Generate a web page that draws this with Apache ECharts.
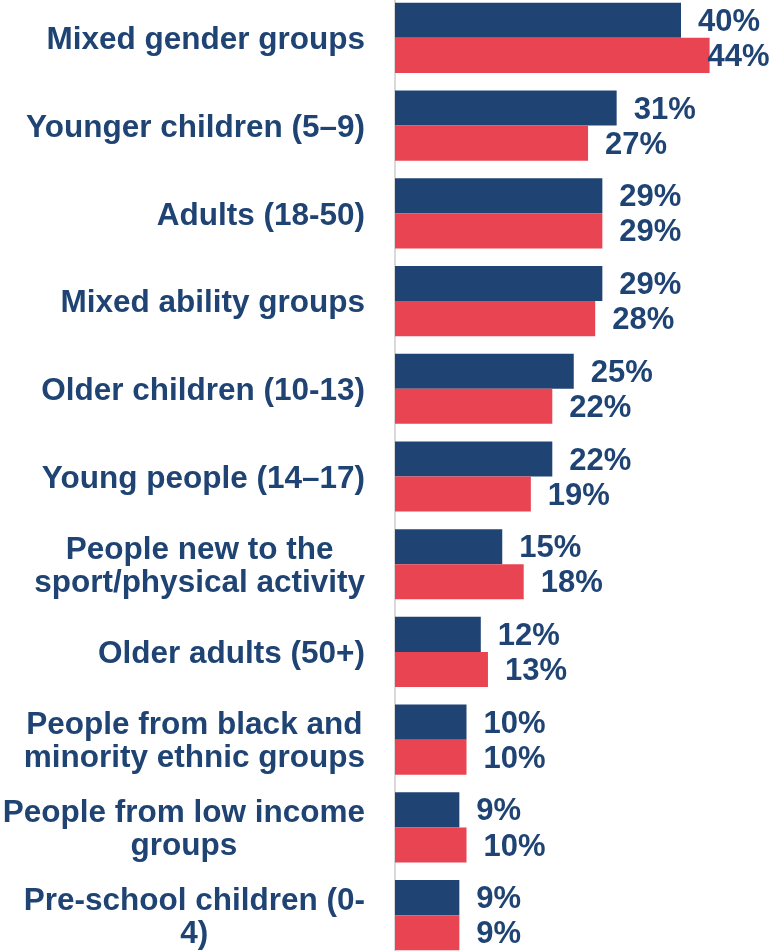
<!DOCTYPE html>
<html>
<head>
<meta charset="utf-8">
<script src="https://cdn.jsdelivr.net/npm/echarts@6/dist/echarts.min.js"></script>
<style>
  html, body { margin: 0; padding: 0; background: #ffffff; overflow: hidden; }
  /* The plot runs a little past the top and bottom edges of the page */
  #chart { width: 769px; height: 965px; position: relative; top: -6px; }
</style>
</head>
<body>
<div id="chart"></div>
<script>
// Groups the activity sessions were aimed at
const categories = [
  'Mixed gender groups',
  'Younger children (5\u20139)',
  'Adults (18-50)',
  'Mixed ability groups',
  'Older children (10-13)',
  'Young people (14\u201317)',
  'People new to the\nsport/physical activity',
  'Older adults (50+)',
  'People from black and\nminority ethnic groups',
  'People from low income\ngroups',
  'Pre-school children (0-\n4)'
];

// Percentages for the two respondent groups
const seriesA = [40, 31, 29, 29, 25, 22, 15, 12, 10, 9, 9];
const seriesB = [44, 27, 29, 28, 22, 19, 18, 13, 10, 10, 9];

const NAVY = '#1f4474';
const RED = '#e84452';
const FONT = '"Liberation Sans", Arial, Helvetica, sans-serif';

const valueLabel = {
  show: true,
  position: 'right',
  distance: 17,
  offset: [0, 2],
  formatter: p => p.value + '%',
  color: NAVY,
  fontFamily: FONT,
  fontWeight: 'bold',
  fontSize: 31
};

// The widest value sits against the right edge, so its label hugs the bar
const seriesBData = seriesB.map(v =>
  v === Math.max(...seriesB) ? { value: v, label: { distance: -2 } } : v
);

const chart = echarts.init(document.getElementById('chart'), null, { renderer: 'canvas' });

chart.setOption({
  backgroundColor: '#ffffff',
  animation: false,
  grid: {
    left: 395,
    right: 16.5,
    top: 0,
    bottom: 0,
    containLabel: false,
    outerBoundsMode: 'none'
  },
  xAxis: {
    type: 'value',
    min: 0,
    max: 50,
    show: false
  },
  yAxis: {
    type: 'category',
    data: categories,
    inverse: true,
    axisLine: { show: true, lineStyle: { color: '#d9d9d9', width: 2 } },
    axisTick: { show: false },
    splitLine: { show: false },
    axisLabel: {
      margin: 30,
      align: 'right',
      padding: [5, 0, 0, 0],
      color: NAVY,
      fontFamily: FONT,
      fontWeight: 'bold',
      fontSize: 31.5,
      lineHeight: 33,
      formatter: v => v.split('\n').map(s => '{c|' + s + '}').join('\n'),
      rich: {
        c: {
          align: 'center',
          color: NAVY,
          fontFamily: FONT,
          fontWeight: 'bold',
          fontSize: 31.5,
          lineHeight: 33
        }
      }
    }
  },
  series: [
    {
      name: 'A',
      type: 'bar',
      data: seriesA,
      itemStyle: { color: NAVY },
      barGap: '0%',
      barCategoryGap: '20%',
      label: valueLabel
    },
    {
      name: 'B',
      type: 'bar',
      data: seriesBData,
      itemStyle: { color: RED },
      barGap: '0%',
      barCategoryGap: '20%',
      label: valueLabel
    }
  ]
});
</script>
</body>
</html>
